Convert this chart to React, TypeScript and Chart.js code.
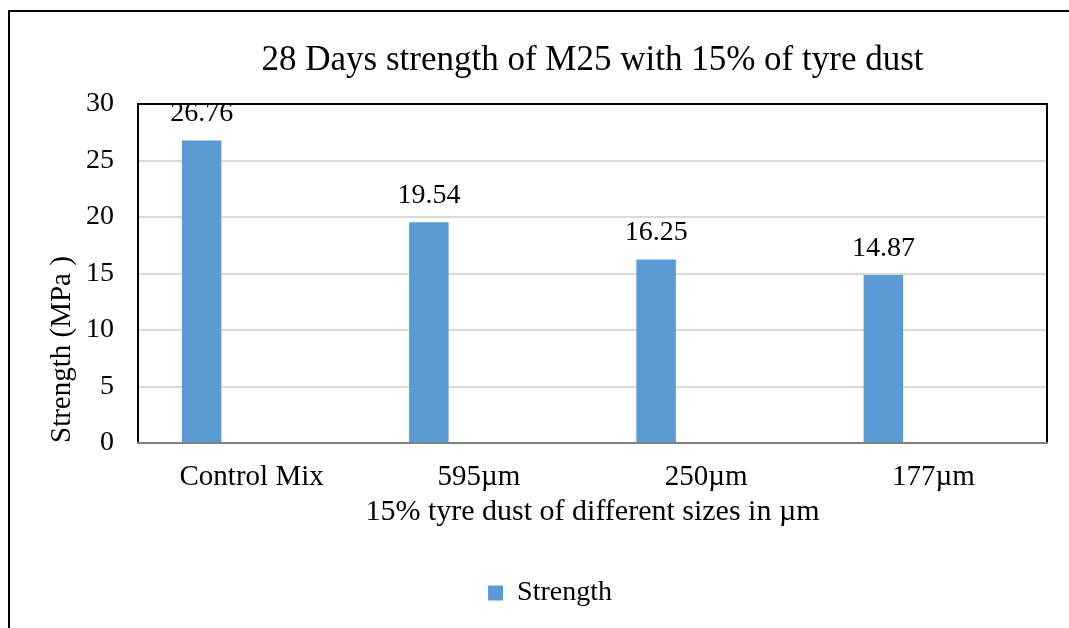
import React, { useEffect, useRef } from 'react';
import { Chart, registerables } from 'chart.js';

Chart.register(...registerables);

// ---- data ----
const categories = ['Control Mix', '595µm', '250µm', '177µm'];
const strength = [26.76, 19.54, 16.25, 14.87];
const emptySecondSlot = [null, null, null, null];
const seriesName = 'Strength';
const yMin = 0;
const yMax = 30;
const yStep = 5;
const chartTitle = '28 Days strength of M25 with 15% of tyre dust';
const xAxisTitle = '15% tyre dust of different sizes in µm';
const yAxisTitle = 'Strength (MPa )';

const FONT = "'Liberation Serif', 'Times New Roman', serif";
const BAR_COLOR = '#5b9bd5';

const framePlugin = {
  id: 'frame',
  beforeDraw(chart: any) {
    const { ctx, width, height } = chart;
    ctx.save();
    ctx.fillStyle = '#ffffff';
    ctx.fillRect(0, 0, width, height);
    ctx.fillStyle = '#000000';
    ctx.fillRect(8, 10, 2, height - 10);
    ctx.fillRect(8, 10, width - 8, 2);
    ctx.restore();
  },
  beforeDatasetsDraw(chart: any) {
    const { ctx, chartArea } = chart;
    const { left, top, right, bottom } = chartArea;
    ctx.save();
    ctx.lineWidth = 2;
    ctx.strokeStyle = '#000000';
    ctx.lineJoin = 'miter';
    ctx.beginPath();
    ctx.moveTo(left, bottom);
    ctx.lineTo(left, top);
    ctx.lineTo(right, top);
    ctx.lineTo(right, bottom);
    ctx.stroke();
    ctx.strokeStyle = '#808080';
    ctx.beginPath();
    ctx.moveTo(left - 1, bottom);
    ctx.lineTo(right + 1, bottom);
    ctx.stroke();
    ctx.restore();
  },
};

const valueLabelPlugin = {
  id: 'valueLabels',
  afterDatasetsDraw(chart: any) {
    const { ctx } = chart;
    const meta = chart.getDatasetMeta(0);
    ctx.save();
    ctx.font = `28px ${FONT}`;
    ctx.fillStyle = '#000000';
    ctx.textAlign = 'center';
    ctx.textBaseline = 'middle';
    meta.data.forEach((bar: any, i: number) => {
      const v = strength[i];
      if (v == null) return;
      ctx.fillText(v.toFixed(2), bar.x, bar.y - 26.5);
    });
    ctx.restore();
  },
};

export default function App() {
  const canvasRef = useRef<HTMLCanvasElement | null>(null);

  useEffect(() => {
    const canvas = canvasRef.current;
    if (!canvas) return;
    const tickFont = { family: FONT, size: 28, weight: 'normal' as const };
    const xTickFont = { family: FONT, size: 29, weight: 'normal' as const };
    const xTitleFont = { family: FONT, size: 30, weight: 'normal' as const };
    const yTitleFont = { family: FONT, size: 29, weight: 'normal' as const };
    const chart = new Chart(canvas, {
      type: 'bar',
      data: {
        labels: categories,
        datasets: [
          {
            label: seriesName,
            data: strength,
            backgroundColor: BAR_COLOR,
            borderWidth: 0,
            barPercentage: 0.395,
            categoryPercentage: 0.88,
          },
          {
            label: '',
            data: emptySecondSlot as any,
            backgroundColor: '#ed7d31',
            borderWidth: 0,
            barPercentage: 0.395,
            categoryPercentage: 0.88,
          },
        ],
      },
      options: {
        responsive: false,
        animation: false,
        devicePixelRatio: 1,
        layout: { padding: { left: 31, right: 0, top: 0, bottom: 11 } },
        plugins: {
          title: {
            display: true,
            fullSize: false,
            text: chartTitle,
            color: '#000000',
            font: { family: FONT, size: 35, weight: 'normal' },
            padding: { top: 40, bottom: 22 },
          },
          legend: {
            display: true,
            position: 'bottom',
            labels: {
              filter: (item: any) => item.datasetIndex === 0,
              color: '#000000',
              font: tickFont,
              boxWidth: 15,
              boxHeight: 15,
              padding: 10,
            },
          },
          tooltip: { enabled: false },
        },
        scales: {
          x: {
            grid: { display: false, drawTicks: false },
            border: { display: false },
            ticks: { color: '#000000', font: xTickFont, padding: 16.6 },
            title: {
              display: true,
              text: xAxisTitle,
              color: '#000000',
              font: xTitleFont,
              padding: { top: 0, bottom: 38.5 },
            },
            afterFit: (s: any) => {
              s.height = 126;
            },
          },
          y: {
            min: yMin,
            max: yMax,
            ticks: { stepSize: yStep, color: '#000000', font: tickFont, padding: 24 },
            grid: { color: '#d9d9d9', lineWidth: 2, drawTicks: false },
            border: { display: false },
            title: {
              display: true,
              text: yAxisTitle,
              align: 'start',
              color: '#000000',
              font: yTitleFont,
              padding: { top: 13.6, bottom: 0 },
            },
            afterFit: (s: any) => {
              s.width = 107;
            },
          },
          yRightSpace: {
            type: 'linear',
            position: 'right',
            display: true,
            grid: { display: false, drawTicks: false },
            ticks: { display: false },
            border: { display: false },
            afterFit: (s: any) => {
              s.width = 22;
            },
          },
        },
      } as any,
      plugins: [framePlugin, valueLabelPlugin],
    });
    return () => chart.destroy();
  }, []);

  return (
    <div
      style={{
        position: 'fixed',
        left: 0,
        top: 0,
        width: 1069,
        height: 628,
        background: '#ffffff',
      }}
    >
      <canvas ref={canvasRef} width={1069} height={628} style={{ display: 'block' }} />
    </div>
  );
}
